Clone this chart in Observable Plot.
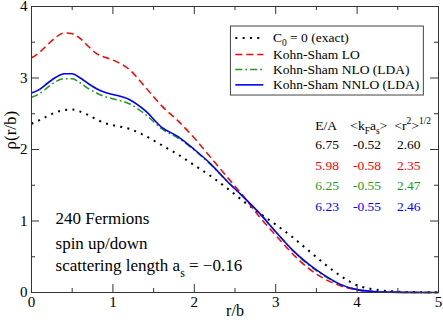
<!DOCTYPE html>
<html>
<head>
<meta charset="utf-8">
<script src="https://cdn.jsdelivr.net/npm/d3@7"></script>
<script src="https://cdn.jsdelivr.net/npm/@observablehq/plot@0.6"></script>
<style>
  html, body { margin: 0; padding: 0; background: white; }
  #chart { width: 443px; height: 323px; }
  #chart svg { overflow: visible; }
  #chart svg text, #chart svg tspan { font-family: "Liberation Serif", "Times New Roman", serif !important; }
</style>
</head>
<body>
<div id="chart"></div>
<script>
// ---------- data ----------
const r = [0, 0.1, 0.2, 0.3, 0.4, 0.5, 0.6, 0.7, 0.8, 0.9, 1.0, 1.2, 1.4, 1.6, 1.8, 2.0, 2.2, 2.4, 2.6, 2.8, 3.0, 3.2, 3.4, 3.6, 3.8, 4.0, 4.2, 4.4, 4.6, 4.8, 5.0];
const rhoExact = [2.36, 2.41, 2.47, 2.52, 2.55, 2.56, 2.53, 2.48, 2.42, 2.37, 2.34, 2.29, 2.19, 2.06, 1.93, 1.78, 1.63, 1.46, 1.28, 1.11, 0.95, 0.78, 0.59, 0.40, 0.23, 0.10, 0.045, 0.018, 0.008, 0.004, 0.002];
const rhoLO    = [3.28, 3.36, 3.47, 3.57, 3.63, 3.62, 3.55, 3.44, 3.34, 3.29, 3.25, 3.12, 2.87, 2.61, 2.40, 2.16, 1.89, 1.62, 1.35, 1.06, 0.80, 0.55, 0.34, 0.19, 0.09, 0.035, 0.012, 0.004, 0.001, 0, 0];
const rhoNLO   = [2.73, 2.78, 2.87, 2.95, 2.99, 2.99, 2.93, 2.85, 2.79, 2.74, 2.71, 2.64, 2.49, 2.29, 2.16, 1.99, 1.79, 1.56, 1.34, 1.11, 0.85, 0.60, 0.39, 0.23, 0.11, 0.04, 0.015, 0.005, 0.002, 0.001, 0];
const rhoNNLO  = [2.79, 2.84, 2.93, 3.01, 3.06, 3.06, 3.00, 2.92, 2.85, 2.80, 2.77, 2.70, 2.54, 2.31, 2.18, 2.00, 1.80, 1.56, 1.34, 1.11, 0.85, 0.60, 0.40, 0.24, 0.11, 0.04, 0.015, 0.005, 0.002, 0.001, 0];

const seriesNames = ["C_{0} = 0 (exact)", "Kohn-Sham LO", "Kohn-Sham NLO (LDA)", "Kohn-Sham NNLO (LDA)"];
const tableHeader = ["E/A", "<k_{F}a_{s}>", "<r^{2}>^{1/2}"];
const tableEA = ["6.75", "5.98", "6.25", "6.23"];
const tableKF = ["-0.52", "-0.58", "-0.55", "-0.55"];
const tableR  = ["2.60", "2.35", "2.47", "2.46"];
const notes = ["240 Fermions", "spin up/down", "scattering length a_{s} = \u22120.16"];
const xTicks = [0, 1, 2, 3, 4, 5];
const yTicks = [0, 1, 2, 3, 4];
const xMinor = [0.5, 1.5, 2.5, 3.5, 4.5];
const yMinor = [0.5, 1.5, 2.5, 3.5];
const xLabel = "r/b";
const yLabel = "\u03c1(r/b)";

// ---------- layout / styles ----------
const W = 443, Hgt = 323, mL = 31, mR = 5, mT = 6, mB = 31;
const PH = Hgt - mT - mB, PW = W - mL - mR;
const FONT = "'Liberation Serif', 'Times New Roman', serif";
const colors = ["#000000", "#ff0000", "#1f9a1f", "#0000ff"];
const styles = [
  {stroke: colors[0], strokeWidth: 2, strokeDasharray: "2,5.3"},
  {stroke: colors[1], strokeWidth: 1.5, strokeDasharray: "7,4"},
  {stroke: colors[2], strokeWidth: 1.5, strokeDasharray: "7,3,1.8,3"},
  {stroke: colors[3], strokeWidth: 1.6, strokeDasharray: null}
];
const seriesValues = [rhoExact, rhoLO, rhoNLO, rhoNNLO];

const legBox = {x1: 2.45, x2: 4.82, y1: 2.755, y2: 3.72};
const legRowY = [3.56, 3.328, 3.118, 2.904];
const legLineX = [2.504, 2.848];
const legTextX = 2.967;
const tabHeadX = [3.486, 3.916, 4.459];
const tabColX = [3.486, 3.949, 4.489];
const tabHeadY = 2.335;
const tabRowY = [2.064, 1.775, 1.49, 1.2];
const noteX = 0.295;
const noteY = [1.033, 0.683, 0.37];

const marks = [];
seriesValues.forEach((vals, k) => {
  const data = r.map((x, i) => ({x, y: vals[i]}));
  marks.push(Plot.line(data, {x: "x", y: "y", curve: "monotone-x", strokeLinecap: "butt", ...styles[k]}));
});
const tickStroke = "#333";
marks.push(Plot.frame({stroke: tickStroke, strokeWidth: 1}));
marks.push(Plot.tickX(xTicks, {x: d => d, insetTop: PH - 8, stroke: tickStroke}));
marks.push(Plot.tickX(xTicks, {x: d => d, insetBottom: PH - 8, stroke: tickStroke}));
marks.push(Plot.tickX(xMinor, {x: d => d, insetTop: PH - 4, stroke: tickStroke}));
marks.push(Plot.tickX(xMinor, {x: d => d, insetBottom: PH - 4, stroke: tickStroke}));
marks.push(Plot.tickY(yTicks, {y: d => d, insetRight: PW - 8, stroke: tickStroke}));
marks.push(Plot.tickY(yTicks, {y: d => d, insetLeft: PW - 8, stroke: tickStroke}));
marks.push(Plot.tickY(yMinor, {y: d => d, insetRight: PW - 4, stroke: tickStroke}));
marks.push(Plot.tickY(yMinor, {y: d => d, insetLeft: PW - 4, stroke: tickStroke}));
marks.push(Plot.axisX(xTicks, {tickSize: 0, tickPadding: 4, fontSize: 15, label: null, tickFormat: d => String(d)}));
marks.push(Plot.axisY(yTicks, {tickSize: 0, tickPadding: 4, fontSize: 15, label: null, tickFormat: d => String(d)}));
marks.push(Plot.text([xLabel], {frameAnchor: "bottom", dy: 23, fontSize: 16, text: d => d}));
marks.push(Plot.text([yLabel], {frameAnchor: "left", rotate: -90, dx: -21, fontSize: 17, text: d => d}));
marks.push(Plot.rect([0], {x1: () => legBox.x1, x2: () => legBox.x2, y1: () => legBox.y1, y2: () => legBox.y2, fill: "white", stroke: "#444", strokeWidth: 1}));
seriesNames.forEach((name, k) => {
  marks.push(Plot.link([0], {x1: () => legLineX[0], x2: () => legLineX[1], y1: () => legRowY[k], y2: () => legRowY[k], strokeLinecap: "butt", ...styles[k]}));
});
marks.push(Plot.text(seriesNames, {x: () => legTextX, y: (d, i) => legRowY[i], text: d => d, textAnchor: "start", fontSize: 13.5, fill: "black"}));
marks.push(Plot.text(tableHeader, {x: (d, i) => tabHeadX[i], y: () => tabHeadY, text: d => d, textAnchor: "start", fontSize: 13.5, fill: "black"}));
[tableEA, tableKF, tableR].forEach((col, j) => {
  marks.push(Plot.text(col, {x: () => tabColX[j], y: (d, i) => tabRowY[i], text: d => d, textAnchor: "start", fontSize: 13.5, fill: (d, i) => colors[i]}));
});
marks.push(Plot.text(notes, {x: () => noteX, y: (d, i) => noteY[i], text: d => d, textAnchor: "start", fontSize: 17, fill: "black"}));

const svg = Plot.plot({
  width: W, height: Hgt,
  marginLeft: mL, marginRight: mR, marginTop: mT, marginBottom: mB,
  x: {domain: [0, 5]},
  y: {domain: [0, 4]},
  style: {fontFamily: FONT, fontSize: "14px", background: "white", color: "black", overflow: "visible"},
  marks
});
svg.setAttribute("font-family", FONT);

const NS = "http://www.w3.org/2000/svg";
function richify(el) {
  const s = el.textContent;
  if (!/[_^]\{/.test(s)) return;
  const fsEl = el.closest("[font-size]");
  const fs = fsEl ? parseFloat(fsEl.getAttribute("font-size")) : 14;
  while (el.firstChild) el.removeChild(el.firstChild);
  const re = /([_^])\{([^}]*)\}/g;
  let last = 0, shift = 0, m;
  const add = (str, type) => {
    const t = document.createElementNS(NS, "tspan");
    t.textContent = str;
    const target = type === "_" ? fs * 0.3 : type === "^" ? -fs * 0.42 : 0;
    if (target !== shift) { t.setAttribute("dy", (target - shift).toFixed(2)); shift = target; }
    if (type) t.setAttribute("font-size", (fs * 0.7).toFixed(2));
    el.appendChild(t);
  };
  while ((m = re.exec(s))) {
    if (m.index > last) add(s.slice(last, m.index), null);
    add(m[2], m[1]);
    last = re.lastIndex;
  }
  if (last < s.length) add(s.slice(last), null);
}
svg.querySelectorAll("text").forEach(richify);

document.getElementById("chart").appendChild(svg);
</script>
</body>
</html>
